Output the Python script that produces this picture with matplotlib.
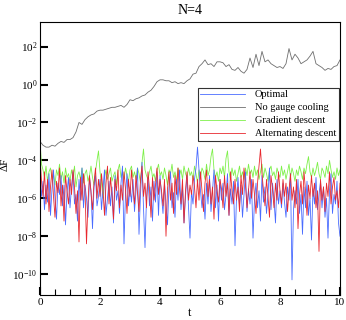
import numpy as np
import matplotlib
matplotlib.use("Agg")
import matplotlib.pyplot as plt
from matplotlib.ticker import FixedLocator, MultipleLocator, NullLocator

plt.rcParams['font.family'] = ['Liberation Serif', 'DejaVu Serif']
plt.rcParams['mathtext.fontset'] = 'custom'
plt.rcParams['mathtext.rm'] = 'Liberation Serif'
plt.rcParams['mathtext.it'] = 'Liberation Serif:italic'

# log10(Delta F), sampled every 0.05 in t
t_fine = np.linspace(0, 10, 201)
green_log = [
    -3.0, -4.2, -4.5, -4.9, -4.3, -5.1, -4.6, -4.4, -5.0, -4.7, -5.3, -4.5, -4.8, -4.2, -5.0, -4.6, -5.2, -4.4, -4.9, -4.7, -5.1,
    -4.5, -4.9, -4.3, -5.4, -4.8, -4.6, -5.0, -4.4, -5.2, -4.7, -4.5, -5.1, -4.8, -4.3, -4.9, -5.3, -4.6, -4.0, -3.5, -4.6,
    -5.2, -6.0, -4.9, -4.5, -5.0, -4.7, -4.4, -5.1, -4.8, -4.6, -5.3, -4.5, -4.2, -4.9, -4.6, -5.0, -4.4, -4.8, -5.1, -4.5,
    -4.3, -4.9, -4.6, -5.0, -4.4, -4.7, -5.2, -4.1, -3.4, -4.5, -4.8, -5.0, -4.6, -4.3, -4.9, -4.7, -5.1, -4.5, -4.2, -4.8,
    -4.6, -5.0, -4.4, -4.8, -5.3, -4.5, -4.7, -4.2, -4.9, -4.6, -5.1, -4.4, -4.8, -4.5, -5.0, -4.3, -4.7, -4.9, -4.4, -4.8,
    -4.6, -5.0, -4.3, -4.7, -5.2, -4.5, -4.9, -4.4, -4.6, -5.0, -4.2, -4.8, -4.5, -3.8, -3.4, -4.5, -4.9, -4.6, -5.1, -4.4,
    -4.7, -4.3, -4.9, -3.9, -3.5, -4.6, -5.0, -4.4, -4.8, -4.5, -5.1, -4.7, -4.3, -4.9, -4.6, -5.0, -4.4, -4.8, -4.2, -4.7,
    -4.5, -4.9, -4.3, -4.8, -4.5, -5.0, -4.6, -4.2, -4.9, -4.4, -4.7, -5.1, -4.5, -4.3, -4.8, -4.6, -5.0, -4.4, -4.7, -4.9,
    -4.3, -4.8, -4.5, -5.0, -4.6, -4.2, -4.9, -4.4, -4.7, -5.1, -4.5, -4.8, -4.3, -4.6, -5.0, -4.4, -4.7, -4.2, -3.8, -4.6,
    -4.9, -4.4, -4.8, -4.5, -4.1, -4.7, -5.0, -4.4, -4.6, -4.9, -4.3, -4.7, -4.0, -4.5, -4.9, -4.6, -5.0, -4.4, -4.8, -4.5,
]
blue_log = [
    -4.6, -5.9, -5.1, -6.6, -5.3, -6.2, -4.7, -6.9, -5.5, -4.5, -6.0, -7.1, -5.2, -5.8, -4.8, -6.4, -5.3, -7.4, -5.7, -4.9, -6.5,
    -5.4, -4.6, -6.3, -5.8, -7.2, -5.0, -6.1, -4.4, -6.5, -5.3, -6.0, -7.0, -4.9, -5.6, -7.6, -5.4, -4.8, -6.4, -5.9, -5.0,
    -6.6, -5.5, -4.5, -6.9, -6.0, -5.1, -6.4, -5.4, -7.3, -4.8, -6.1, -5.6, -6.8, -5.2, -4.3, -8.4, -5.8, -4.7, -6.4, -5.4,
    -6.2, -5.0, -6.7, -5.6, -4.4, -7.9, -5.8, -4.1, -6.5, -8.6, -6.0, -4.9, -6.4, -5.4, -7.2, -5.1, -6.2, -4.6, -6.9, -4.8,
    -5.9, -6.8, -5.2, -6.3, -7.4, -5.4, -4.6, -6.5, -5.7, -7.0, -5.0, -6.1, -4.5, -6.6, -5.4, -7.3, -5.9, -4.8, -6.4, -8.1,
    -5.6, -6.3, -5.0, -4.4, -3.3, -4.5, -5.6, -6.5, -5.8, -7.1, -5.2, -6.3, -4.8, -6.7, -5.6, -4.5, -6.5, -5.3, -7.2, -5.0,
    -6.1, -5.2, -6.6, -5.8, -4.7, -6.9, -5.5, -6.3, -5.1, -8.5, -6.0, -4.9, -6.4, -5.3, -7.0, -5.8, -4.6, -6.7, -5.5, -6.3,
    -5.0, -8.1, -6.1, -5.2, -6.5, -5.6, -7.2, -4.8, -6.2, -5.4, -6.8, -5.8, -4.4, -6.6, -5.2, -6.1, -7.3, -5.0, -6.3, -5.6,
    -6.5, -5.2, -6.2, -7.0, -5.4, -6.1, -4.7, -10.3, -6.6, -5.6, -6.3, -5.0, -6.8, -5.8, -7.9, -5.4, -6.5, -5.1, -6.9, -6.0,
    -8.2, -5.5, -6.3, -4.9, -6.6, -5.8, -5.1, -6.5, -5.4, -7.0, -6.0, -8.1, -5.6, -4.7, -6.8, -5.8, -6.3, -5.1, -7.3, -8.0,
]
red_log = [
    -3.8, -5.1, -5.9, -4.6, -6.3, -5.0, -6.7, -5.4, -4.5, -5.9, -7.0, -5.1, -5.7, -4.4, -6.4, -5.3, -7.2, -4.8, -5.6, -6.3, -5.0,
    -5.8, -4.5, -5.4, -6.8, -5.6, -8.3, -4.9, -6.1, -4.7, -5.5, -8.4, -6.2, -4.8, -5.7, -6.6, -5.2, -4.4, -6.0, -5.0, -5.9,
    -4.7, -5.6, -6.9, -5.2, -4.3, -6.3, -4.9, -5.8, -7.1, -5.0, -5.6, -4.5, -6.5, -5.3, -6.1, -4.6, -5.5, -6.8, -5.0, -5.9,
    -4.5, -5.5, -6.3, -4.8, -5.7, -6.7, -5.0, -4.3, -5.9, -5.2, -6.5, -4.6, -5.5, -7.0, -4.9, -6.1, -5.3, -4.4, -5.8, -5.0,
    -5.6, -6.4, -5.0, -8.0, -5.5, -4.6, -6.1, -5.2, -6.8, -4.8, -5.8, -4.4, -5.5, -6.3, -5.0, -7.3, -5.6, -4.6, -6.1, -5.3,
    -5.8, -4.8, -5.4, -6.5, -5.0, -6.1, -4.6, -5.6, -6.7, -5.2, -4.5, -5.9, -5.0, -6.3, -5.4, -7.1, -4.8, -5.6, -6.2, -5.0,
    -5.5, -6.5, -4.8, -5.9, -5.2, -6.9, -4.6, -5.6, -6.3, -5.0, -6.1, -5.4, -6.7, -4.8, -5.8, -4.4, -5.3, -6.5, -5.6, -4.6,
    -6.0, -5.0, -5.8, -6.8, -5.2, -4.3, -3.4, -4.7, -5.6, -6.4, -5.0, -5.9, -7.0, -4.8, -5.5, -6.5, -5.2, -6.1, -4.6, -5.6,
    -6.3, -5.0, -5.9, -5.2, -6.7, -5.6, -4.7, -6.1, -5.4, -6.5, -5.0, -7.6, -5.8, -5.1, -6.3, -4.6, -5.6, -6.9, -5.3, -6.0,
    -4.8, -5.9, -5.2, -6.5, -5.6, -8.8, -5.0, -6.1, -5.4, -6.7, -5.2, -5.9, -4.6, -6.3, -5.4, -4.9, -6.1, -5.6, -6.5, -5.2,
]

# no gauge cooling, sampled every 0.1 in t
t_gray = np.linspace(0, 10, 101)
gray_log = [
    -3.0, -3.2, -3.3, -3.3, -3.2, -3.25, -3.1, -3.0, -3.05, -2.9,
    -2.9, -2.8, -2.5, -2.0, -2.1, -1.85, -1.7, -1.6, -1.55, -1.4,
    -1.35, -1.35, -1.3, -1.25, -1.2, -1.2, -1.15, -1.1, -1.2, -1.05,
    -0.8, -0.85, -0.75, -0.7, -0.6, -0.55, -0.4, -0.3, -0.1, 0.15,
    0.25, 0.25, 0.2, 0.2, 0.1, 0.15, 0.05, 0.1, 0.05, 0.2,
    0.3, 0.55, 0.6, 0.95, 1.1, 1.3, 1.05, 1.1, 0.95, 1.2,
    1.2, 1.15, 0.95, 1.05, 0.8, 0.75, 0.9, 0.7, 0.6, 0.8,
    1.4, 0.9, 1.6, 1.0, 1.75, 1.2, 1.3, 1.1, 1.0, 0.9,
    0.95, 0.85, 1.1, 1.9, 1.3, 1.6, 1.4, 1.1, 1.2, 1.3,
    1.5, 1.75, 1.1, 1.0, 0.9, 0.75, 0.85, 0.8, 0.95, 1.0,
    1.3,
]

labels = ["Optimal", "No gauge cooling", "Gradient descent", "Alternating descent"]
colors = ["#4a6cff", "#6e6e6e", "#7ef04a", "#e8282e"]

fig = plt.figure(figsize=(3.46, 3.20), dpi=100)
ax = fig.add_axes([40 / 346, 1 - 295 / 320, 300 / 346, 273 / 320])

lw = 0.6
l_green, = ax.plot(t_fine, 10.0 ** np.array(green_log), color=colors[2], lw=lw)
l_blue, = ax.plot(t_fine, 10.0 ** np.array(blue_log), color=colors[0], lw=lw)
l_red, = ax.plot(t_fine, 10.0 ** np.array(red_log), color=colors[3], lw=lw)
l_gray, = ax.plot(t_gray, 10.0 ** np.array(gray_log), color=colors[1], lw=lw)

ax.set_yscale('log')
ax.set_xlim(0, 10)
ax.set_ylim(10 ** -11.1, 10 ** 3.3)

ax.xaxis.set_major_locator(MultipleLocator(2))
ax.xaxis.set_minor_locator(MultipleLocator(0.5))
ax.yaxis.set_major_locator(FixedLocator([10.0 ** e for e in range(-10, 3, 2)]))
ax.yaxis.set_minor_locator(NullLocator())
ax.set_yticklabels([r'$10^{%d}$' % e for e in range(-10, 3, 2)])

ax.tick_params(which='both', direction='in', top=False, right=False, labelsize=8, colors='black')
ax.tick_params(which='major', length=6, width=1.5)
ax.tick_params(which='minor', length=4, width=0.8)
ax.tick_params(axis='x', pad=2)
ax.tick_params(axis='y', pad=2)
for s in ax.spines.values():
    s.set_linewidth(0.8)

ax.set_title("N=4", fontsize=10, pad=6)
ax.set_xlabel("t", fontsize=9, labelpad=0)
ax.set_ylabel("ΔF", fontsize=8)
ax.yaxis.set_label_coords(-0.1, 0.48)

leg = ax.legend([l_blue, l_gray, l_green, l_red], labels, loc='upper right',
                bbox_to_anchor=(0.995, 0.76), fontsize=7.5, frameon=True, fancybox=False,
                handlelength=4.3, handletextpad=0.9, labelspacing=0.35, borderpad=0.25,
                borderaxespad=0)
leg.get_frame().set_edgecolor('black')
leg.get_frame().set_linewidth(0.8)

fig.savefig("out.png", dpi=100)
